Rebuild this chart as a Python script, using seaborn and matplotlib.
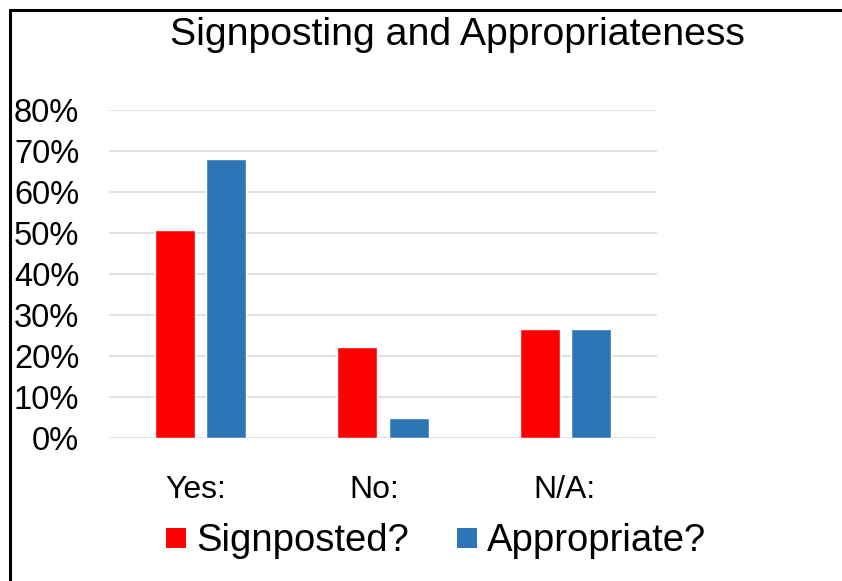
import matplotlib
matplotlib.use("Agg")
import matplotlib.pyplot as plt
import matplotlib.transforms as mtransforms
from matplotlib.lines import Line2D
import numpy as np
import pandas as pd
import seaborn as sns

# Survey answers (percent of responses)
categories = ["Yes:", "No:", "N/A:"]
series_names = ["Signposted?", "Appropriate?"]
signposted = [50.8, 22.3, 26.7]
appropriate = [68.1, 5.0, 26.7]
y_ticks = [0, 10, 20, 30, 40, 50, 60, 70, 80]

colors = {"Signposted?": "#FF0000", "Appropriate?": "#2E75B6"}

df = pd.DataFrame({
    "answer": categories * 2,
    "series": [series_names[0]] * len(categories) + [series_names[1]] * len(categories),
    "value": signposted + appropriate,
})

sns.set_theme(style="white")
plt.rcParams["font.family"] = ["Liberation Sans", "DejaVu Sans"]
plt.rcParams["text.color"] = "black"

W, H = 842, 581
fig = plt.figure(figsize=(W / 100, H / 100), dpi=100)
fig.patch.set_facecolor("white")

ax = fig.add_axes([109 / W, 1 - 438 / H, 548 / W, 328 / H])
sns.barplot(data=df, x="answer", y="value", hue="series", order=categories,
            hue_order=series_names, palette=colors, width=0.56, gap=0.22,
            saturation=1, ax=ax, legend=False)

ax.set_ylim(0, 80)
ax.set_xlim(-0.5, len(categories) - 0.5)
ax.set_yticks(y_ticks)
ax.set_yticklabels([f"{t}%" for t in y_ticks])
ax.set_xlabel("")
ax.set_ylabel("")
ax.yaxis.grid(True, color="#d9d9d9", linewidth=1.1)
ax.xaxis.grid(False)
ax.set_axisbelow(True)
for s in ax.spines.values():
    s.set_visible(False)

ax.tick_params(axis="y", length=0, pad=21.5, labelsize=23.5, labelcolor="black")
ax.tick_params(axis="x", length=0, pad=27, labelsize=23, labelcolor="black")

# nudge the category labels slightly
shifts_px = [-4.5, -8.5, -1.0]
for lab, dx in zip(ax.get_xticklabels(), shifts_px):
    lab.set_transform(lab.get_transform() +
                      mtransforms.ScaledTranslation(dx / 100, 0, fig.dpi_scale_trans))

fig.text(457 / W, 1 - 35 / H, "Signposting and Appropriateness",
         ha="center", va="center", fontsize=28.3, color="black")

handles = [Line2D([], [], linestyle="none", marker="s", markersize=13.7,
                  markerfacecolor=colors[n], markeredgewidth=0) for n in series_names]
leg = fig.legend(handles, series_names, loc="center", bbox_to_anchor=(0.518, 1 - 541 / H),
                 ncol=2, frameon=False, fontsize=27.5, handlelength=0.52,
                 handletextpad=0.28, columnspacing=1.25, borderaxespad=0)
for t in leg.get_texts():
    t.set_color("black")

# frame lines along the left and top edges
fig.add_artist(Line2D([9.5 / W, 9.5 / W], [0, 1 - 8.5 / H], transform=fig.transFigure,
                      color="black", linewidth=2.2, solid_capstyle="butt"))
fig.add_artist(Line2D([8.5 / W, 1], [1 - 10 / H, 1 - 10 / H], transform=fig.transFigure,
                      color="black", linewidth=2.2, solid_capstyle="butt"))

fig.savefig("out.png", dpi=100, facecolor="white")
